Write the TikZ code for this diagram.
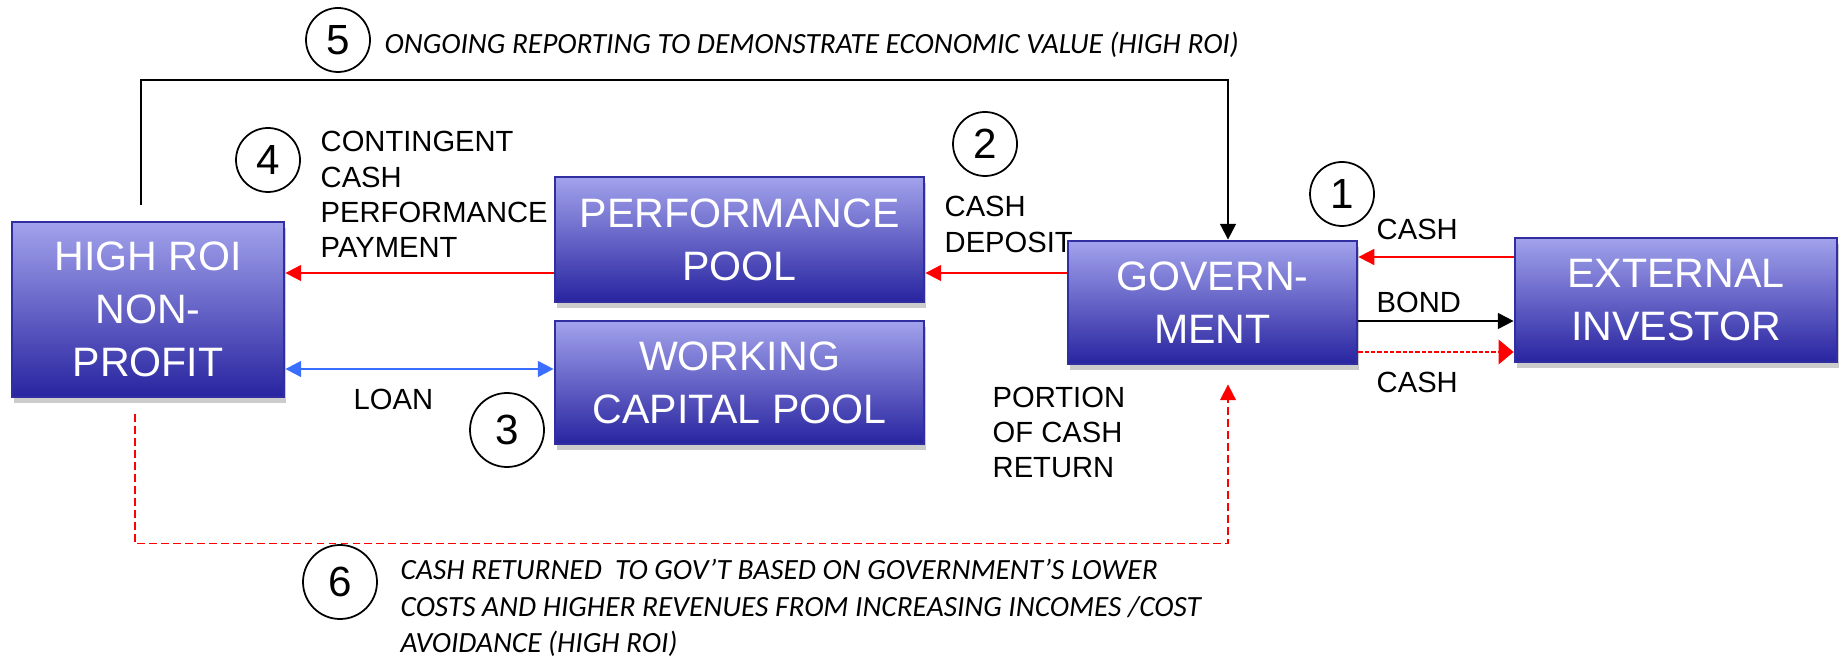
\documentclass[tikz,border=0pt]{standalone}
\usepackage{fontspec}
\setmainfont{Liberation Sans}
\newfontfamily\notefont{Carlito}
\usetikzlibrary{arrows.meta, positioning, shadows}

\definecolor{boxtop}{RGB}{162,162,236}
\definecolor{boxmid}{RGB}{128,126,214}
\definecolor{boxbot}{RGB}{40,36,160}
\definecolor{boxline}{RGB}{48,46,160}
\definecolor{loanblue}{RGB}{58,110,255}

\tikzset{
    pool/.style={rectangle, draw=boxline, line width=0.8pt,
        top color=boxtop, middle color=boxmid, bottom color=boxbot,
        text=white, align=center, inner sep=2pt,
        font=\fontsize{11.7}{15}\selectfont,
        drop shadow={shadow xshift=0.6pt, shadow yshift=-1.6pt, fill=black!40, opacity=0.5}},
    stepno/.style={circle, draw, line width=0.5pt, inner sep=0pt, minimum size=0.64cm,
        font=\fontsize{12}{14}\selectfont},
    bigstepno/.style={stepno, minimum size=0.74cm},
    lbl/.style={anchor=west, align=left, inner sep=0pt, font=\fontsize{8.3}{10}\selectfont},
    note/.style={anchor=west, align=left, inner sep=0pt, font=\notefont\itshape\fontsize{8.35}{10.3}\selectfont},
    redflow/.style={red, line width=0.6pt, -{Triangle[length=4.5pt, width=4.5pt]}},
    blackflow/.style={black, line width=0.6pt, -{Triangle[length=4.5pt, width=4.5pt]}},
    loanflow/.style={loanblue, line width=0.6pt, {Triangle[length=4.5pt, width=4.5pt]}-{Triangle[length=4.5pt, width=4.5pt]}},
    dotflow/.style={red, line width=0.6pt, dash pattern=on 1.2pt off 0.6pt, -{Triangle[length=4.3pt, width=7pt]}},
    dashflow/.style={red, line width=0.5pt, dash pattern=on 2.2pt off 1.2pt, -{Triangle[length=4.5pt, width=4.5pt]}}
}

\begin{document}
\begin{tikzpicture}
    \useasboundingbox (0,0) rectangle (18.43,-6.59);

    % boxes
    \node[pool, minimum width=2.72cm, minimum height=1.75cm] (roi) at (1.48,-3.095) {HIGH ROI\\NON-\\PROFIT};
    \node[pool, minimum width=3.69cm, minimum height=1.25cm] (perf) at (7.395,-2.395) {PERFORMANCE\\POOL};
    \node[pool, minimum width=3.69cm, minimum height=1.23cm] (wcap) at (7.395,-3.825) {WORKING\\CAPITAL POOL};
    \node[pool, minimum width=2.89cm, minimum height=1.23cm] (gov) at (12.125,-3.025) {GOVERN-\\MENT};
    \node[pool, minimum width=3.22cm, minimum height=1.24cm] (inv) at (16.76,-3.00) {EXTERNAL\\INVESTOR};

    % investor <-> government
    \draw[redflow] ([yshift=4.3mm]inv.west) -- ([yshift=4.3mm]inv.west -| gov.east);
    \draw[blackflow] ([yshift=-1.85mm]gov.east) -- ([yshift=-1.85mm]gov.east -| inv.west);
    \draw[dotflow] ([yshift=-4.95mm]gov.east) -- ([yshift=-4.95mm]gov.east -| inv.west);

    % pools
    \draw[redflow] ([yshift=2.95mm]gov.west) -- ([yshift=2.95mm]gov.west -| perf.east);
    \draw[redflow] ([yshift=-3.35mm]perf.west) -- ([yshift=-3.35mm]perf.west -| roi.east);
    \draw[loanflow] ([yshift=-5.95mm]roi.east) -- ([yshift=-5.95mm]roi.east -| wcap.west);

    % reporting and cash return loops
    \draw[blackflow] ([shift={(-0.07,0.16)}]roi.north) -- ++(0,1.25) -| ([xshift=1.55mm]gov.north);
    \draw[dashflow] ([shift={(-0.13,-0.16)}]roi.south) -- ++(0,-1.29) -| ([shift={(0.155,-0.19)}]gov.south);

    % step numbers
    \node[stepno] (s1) at (13.42,-1.94) {1};
    \node[stepno] (s2) at (9.85,-1.44) {2};
    \node[bigstepno] (s3) at (5.07,-4.30) {3};
    \node[stepno] (s4) at (2.68,-1.60) {4};
    \node[stepno] (s5) at (3.38,-0.40) {5};
    \node[bigstepno] (s6) at (3.40,-5.82) {6};

    % labels
    \node[lbl] (lcashin) at (13.76,-2.29) {CASH};
    \node[lbl] (lbond) at (13.76,-3.02) {BOND};
    \node[lbl] (lcashout) at (13.76,-3.82) {CASH};
    \node[lbl] (ldeposit) at (9.44,-2.245) {CASH\\DEPOSIT};
    \node[lbl] (lpayment) at (3.20,-1.945) {CONTINGENT\\CASH\\PERFORMANCE\\PAYMENT};
    \node[lbl] (lloan) at (3.53,-3.99) {LOAN};
    \node[lbl] (lreturn) at (9.92,-4.325) {PORTION\\OF CASH\\RETURN};

    \node[note] (nreport) at (3.84,-0.45) {ONGOING REPORTING TO DEMONSTRATE ECONOMIC VALUE (HIGH ROI)};
    \node[note] (nreturn) at (4.00,-6.08) {CASH RETURNED~ TO GOV’T BASED ON GOVERNMENT’S LOWER\\COSTS AND HIGHER REVENUES FROM INCREASING INCOMES /COST\\AVOIDANCE (HIGH ROI)};
\end{tikzpicture}
\end{document}
